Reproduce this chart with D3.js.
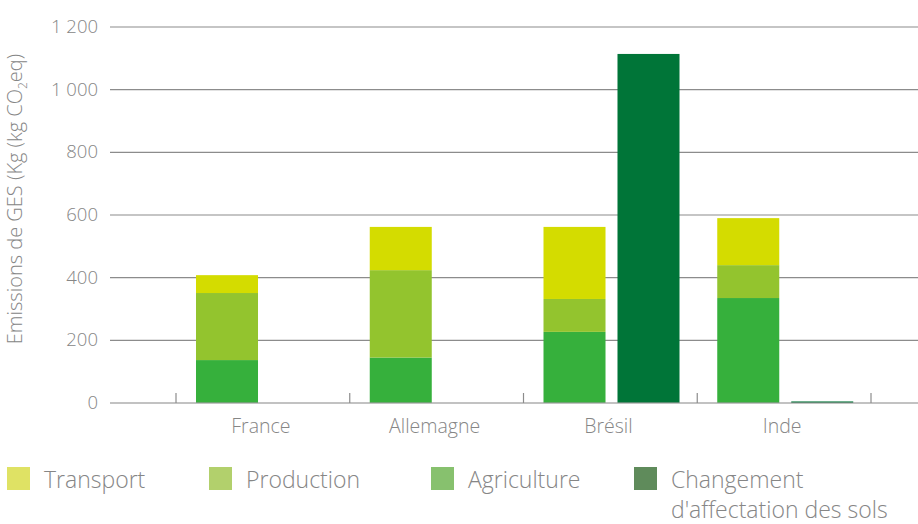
<!DOCTYPE html>
<html>
<head>
<meta charset="utf-8">
<script src="https://cdn.jsdelivr.net/npm/d3@7"></script>
<style>
  body { margin: 0; background: #fff; }
  svg text { font-family: "Open Sans", sans-serif; font-weight: 300; fill: #868686; }
</style>
</head>
<body>
<div id="chart"></div>
<script>
// data
const countries = ["France", "Allemagne", "Brésil", "Inde"];
const agriculture = [137, 145, 227, 335];
const production = [214, 279, 105, 105];
const transport = [57, 138, 230, 150];
const changement = [0, 0, 1114, 5];
const yTicks = [0, 200, 400, 600, 800, 1000, 1200];

const legendNames = ["Transport", "Production", "Agriculture", "Changement|d'affectation des sols"];
const barColors = { agriculture: "#36b03c", production: "#93c42e", transport: "#d4dc00", changement: "#007538" };
const legendColors = ["#dfe264", "#b2d06c", "#87c16e", "#5f8b5b"];

const width = 918, height = 524;

const svg = d3.select("#chart").append("svg")
    .attr("width", width)
    .attr("height", height);

const y = d3.scaleLinear().domain([0, 1200]).range([403, 27]);
const x = d3.scaleBand().domain(countries).range([176, 871]);
const sub = d3.scaleBand().domain(["stack", "cas"]).range([20, 156]).paddingInner(0.162);

// gridlines
svg.append("g").selectAll("line")
    .data(yTicks.filter(d => d > 0))
    .enter().append("line")
    .attr("x1", 110).attr("x2", width)
    .attr("y1", d => y(d)).attr("y2", d => y(d))
    .attr("stroke", "#8c8c8c")
    .attr("stroke-width", 1.2);

// y tick labels
svg.append("g").selectAll("text")
    .data(yTicks)
    .enter().append("text")
    .attr("x", 98)
    .attr("y", d => y(d) + 6)
    .attr("text-anchor", "end")
    .style("font-size", "18.5px")
    .text(d => d3.format(",")(d).replace(",", " "));

// y title
const yt = svg.append("text")
    .attr("transform", "translate(22,199) rotate(-90)")
    .attr("text-anchor", "middle")
    .style("font-size", "20px");
yt.append("tspan").text("Emissions de GES (Kg (kg CO");
yt.append("tspan").attr("dy", 5).style("font-size", "12px").text("2");
yt.append("tspan").attr("dy", -5).text("eq)");

// stacked bars
const rows = countries.map((c, i) => ({ country: c, agriculture: agriculture[i], production: production[i], transport: transport[i] }));
const stack = d3.stack().keys(["agriculture", "production", "transport"])(rows);

svg.append("g").selectAll("g")
    .data(stack)
    .enter().append("g")
    .attr("fill", d => barColors[d.key])
    .selectAll("rect")
    .data(d => d)
    .enter().append("rect")
    .attr("x", d => x(d.data.country) + sub("stack"))
    .attr("y", d => y(d[1]))
    .attr("width", sub.bandwidth())
    .attr("height", d => y(d[0]) - y(d[1]));

svg.append("g").selectAll("rect")
    .data(countries.map((c, i) => ({ country: c, v: changement[i] })).filter(d => d.v > 0))
    .enter().append("rect")
    .attr("x", d => x(d.country) + sub("cas"))
    .attr("y", d => y(d.v))
    .attr("width", sub.bandwidth())
    .attr("height", d => y(0) - y(d.v))
    .attr("fill", barColors.changement);

// baseline + ticks between categories
svg.append("line")
    .attr("x1", 110).attr("x2", width)
    .attr("y1", y(0)).attr("y2", y(0))
    .attr("stroke", "#9a9a9a").attr("stroke-width", 1.5)
    .attr("stroke-opacity", 0.8);

const edges = countries.map(c => x(c)).concat([x.range()[1]]);
svg.append("g").selectAll("line")
    .data(edges)
    .enter().append("line")
    .attr("x1", d => d).attr("x2", d => d)
    .attr("y1", y(0) - 10).attr("y2", y(0))
    .attr("stroke", "#8c8c8c").attr("stroke-width", 1.2);

// x labels
svg.append("g").selectAll("text")
    .data(countries)
    .enter().append("text")
    .attr("x", d => x(d) + x.bandwidth() / 2 - 2)
    .attr("y", 433)
    .attr("text-anchor", "middle")
    .style("font-size", "19.5px")
    .text(d => d);

// legend
const legendX = [7, 209, 431, 634];
const lg = svg.append("g").selectAll("g")
    .data(legendNames)
    .enter().append("g")
    .attr("transform", (d, i) => "translate(" + legendX[i] + ",467)");

lg.append("rect")
    .attr("width", 23).attr("height", 23)
    .attr("fill", (d, i) => legendColors[i]);

lg.append("text")
    .attr("x", 37)
    .attr("y", 21)
    .style("font-size", "23px")
    .each(function (d) {
        const t = d3.select(this);
        d.split("|").forEach((line, k) => {
            t.append("tspan").attr("x", 37).attr("dy", k === 0 ? 0 : 30).text(line);
        });
    });
</script>
</body>
</html>
